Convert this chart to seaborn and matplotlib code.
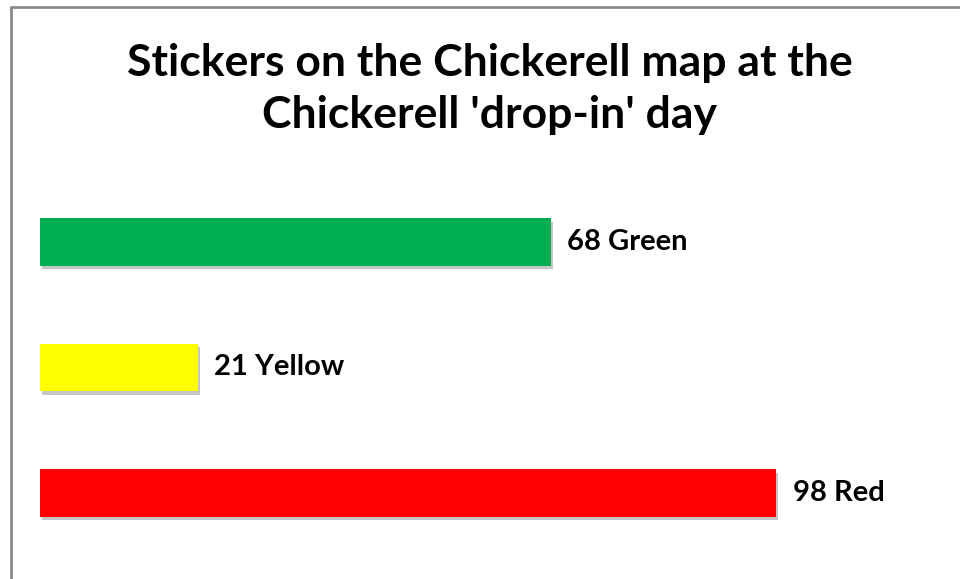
import matplotlib
matplotlib.use("Agg")
import matplotlib.pyplot as plt
import matplotlib.patheffects as pe
from matplotlib.lines import Line2D
import seaborn as sns
import pandas as pd

# sticker counts
categories = ["Green", "Yellow", "Red"]
counts = [68, 21, 98]
bar_colors = ["#00B050", "#FFFF00", "#FF0000"]

df = pd.DataFrame({"colour": categories, "count": counts})

sns.set_theme(style="white")
plt.rcParams["font.family"] = ["Lato", "DejaVu Sans"]

fig = plt.figure(figsize=(9.6, 5.79), dpi=100)
ax = fig.add_axes([40 / 960, 19 / 579, 920 / 960, 380 / 579])

sns.barplot(data=df, x="count", y="colour", hue="colour", palette=bar_colors,
            saturation=1, orient="h", width=0.38, legend=False, ax=ax)

# soft drop shadow like the original office chart
for patch in ax.patches:
    patch.set_edgecolor("none")
    patch.set_path_effects([pe.SimplePatchShadow(offset=(1.5, -2.5), shadow_rgbFace="gray", alpha=0.45),
                            pe.Normal()])

for cont, name, v in zip(ax.containers, categories, counts):
    ax.bar_label(cont, labels=[f"{v} {name}"], padding=12, fontsize=21,
                 fontweight="bold", color="black")

ax.set_xlim(0, 920 / 7.51)
ax.set_ylim(2.534, -0.494)
ax.axis("off")

fig.text(0.51, 1 - 89 / 579, "Stickers on the Chickerell map at the\nChickerell 'drop-in' day",
         ha="center", va="center", fontsize=32, fontweight="bold", color="black",
         linespacing=1.38)

# frame lines on the top and left edge
fig.add_artist(Line2D([10.5 / 960, 10.5 / 960], [0, 1 - 6.5 / 579], color="#8a8a8a", lw=2))
fig.add_artist(Line2D([10.5 / 960, 1], [1 - 6.5 / 579, 1 - 6.5 / 579], color="#8a8a8a", lw=2))

fig.savefig("out.png", dpi=100, facecolor="white")
